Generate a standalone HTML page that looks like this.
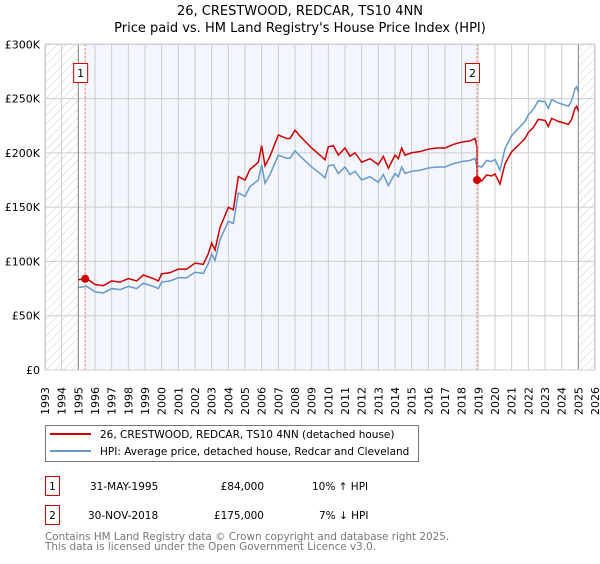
<!DOCTYPE html>
<html><head><meta charset="utf-8"><style>
body{margin:0;background:#fff;font-family:"DejaVu Sans","Liberation Sans",sans-serif;}
svg text{font-family:"DejaVu Sans","Liberation Sans",sans-serif;}
</style></head><body>
<svg id="chart" width="600" height="560" xmlns="http://www.w3.org/2000/svg">
<defs><pattern id="hatch" width="6" height="6" patternUnits="userSpaceOnUse" patternTransform="rotate(45)"><line x1="0" y1="0" x2="0" y2="6" stroke="#ccc" stroke-width="1"/></pattern></defs>
<text x="300" y="15" font-size="13" text-anchor="middle">26, CRESTWOOD, REDCAR, TS10 4NN</text>
<text x="300" y="32" font-size="13" text-anchor="middle">Price paid vs. HM Land Registry's House Price Index (HPI)</text>
<g id="plot"></g>
<g>
<rect x="45.5" y="425.5" width="373" height="36" fill="#fff" stroke="#777"/>
<line x1="50" y1="434" x2="91" y2="434" stroke="#cc0000" stroke-width="2"/>
<text x="100" y="438" font-size="10.5">26, CRESTWOOD, REDCAR, TS10 4NN (detached house)</text>
<line x1="50" y1="451" x2="91" y2="451" stroke="#6699cc" stroke-width="2"/>
<text x="100" y="455" font-size="10.5">HPI: Average price, detached house, Redcar and Cleveland</text>
</g>
<g font-size="10.5">
<rect x="45.5" y="476.5" width="14" height="19" fill="#fff" stroke="#cc0000"/>
<text x="52.5" y="490" text-anchor="middle">1</text>
<text x="90" y="490">31-MAY-1995</text>
<text x="264" y="490" text-anchor="end">£84,000</text>
<text x="312" y="490">10% ↑ HPI</text>
<rect x="45.5" y="505.5" width="14" height="19" fill="#fff" stroke="#cc0000"/>
<text x="52.5" y="519" text-anchor="middle">2</text>
<text x="88" y="519">30-NOV-2018</text>
<text x="264" y="519" text-anchor="end">£175,000</text>
<text x="319" y="519">7% ↓ HPI</text>
</g>
<text x="45" y="540" font-size="10.4" fill="#777">Contains HM Land Registry data © Crown copyright and database right 2025.</text>
<text x="45" y="550" font-size="10.4" fill="#777">This data is licensed under the Open Government Licence v3.0.</text>
</svg>
<script>
const yearTicks=[1993,1994,1995,1996,1997,1998,1999,2000,2001,2002,2003,2004,2005,2006,2007,2008,2009,2010,2011,2012,2013,2014,2015,2016,2017,2018,2019,2020,2021,2022,2023,2024,2025,2026];
const valueTicks=[0,50,100,150,200,250,300];
const valueLabels=["£0","£50K","£100K","£150K","£200K","£250K","£300K"];
const hpiDates=[1995.0,1995.5,1996.0,1996.5,1997.0,1997.5,1998.0,1998.5,1998.9,1999.5,1999.8,2000.0,2000.5,2001.0,2001.5,2002.0,2002.5,2002.8,2003.0,2003.2,2003.5,2004.0,2004.3,2004.6,2005.0,2005.3,2005.8,2006.0,2006.2,2006.5,2007.0,2007.5,2007.7,2008.0,2008.3,2009.0,2009.5,2009.8,2010.0,2010.3,2010.6,2011.0,2011.3,2011.6,2012.0,2012.5,2013.0,2013.3,2013.6,2014.0,2014.2,2014.4,2014.6,2015.0,2015.5,2016.0,2016.5,2017.0,2017.5,2018.0,2018.5,2018.8,2018.92,2019.2,2019.5,2019.8,2020.0,2020.3,2020.6,2021.0,2021.5,2021.8,2022.0,2022.3,2022.6,2023.0,2023.2,2023.4,2023.8,2024.0,2024.4,2024.6,2024.8,2024.9,2025.0];
const hpiValues=[76,77,72,71,75,74,77,75,80,77,75,81,82,85,85,90,89,98,107,101,120,137,135,163,160,169,175,189,172,180,198,195,195,202,197,187,181,177,188,189,181,187,180,183,175,178,173,180,170,181,178,187,181,183,184,186,187,187,190,192,193,195,188,187,193,192,194,184,204,216,224,229,235,240,248,247,241,249,246,245,243,248,259,261,256];
const saleDates=[1995.41,2018.92];
const salePrices=[84,175];
const saleLabels=["1","2"];
const X0=45,X1=595,Y0=370,Y1=44.3;
const sx=d=>X0+(d-1993)/(2026-1993)*(X1-X0);
const sy=v=>Y0-v/300*(Y0-Y1);
const NS="http://www.w3.org/2000/svg";
const g=document.getElementById('plot');
function mk(t,a){const e=document.createElementNS(NS,t);for(const k in a)e.setAttribute(k,a[k]);g.appendChild(e);return e;}
function hpiAt(d){for(let i=0;i<hpiDates.length-1;i++){if(d<=hpiDates[i+1]){const t=(d-hpiDates[i])/(hpiDates[i+1]-hpiDates[i]);return hpiValues[i]+t*(hpiValues[i+1]-hpiValues[i]);}}return hpiValues[hpiValues.length-1];}
let e;
e=mk('rect',{x:sx(saleDates[0]),y:Y1,width:sx(saleDates[1])-sx(saleDates[0]),height:Y0-Y1,fill:'#f3f6fd'});


e=mk('rect',{x:X0,y:Y1,width:sx(1995)-X0,height:Y0-Y1,fill:'url(#hatch)'});


e=mk('rect',{x:sx(2025),y:Y1,width:X1-sx(2025),height:Y0-Y1,fill:'url(#hatch)'});


yearTicks.forEach(y=>{
 e=mk('line',{x1:sx(y),x2:sx(y),y1:Y1,y2:Y0,stroke:'#ccc','stroke-width':1});
 
 
 e=mk('text',{transform:`translate(${sx(y)+4},${Y0+45}) rotate(-90)`,'font-size':11});
 e.textContent=y;
 
 
});
valueTicks.forEach((v,i)=>{
 e=mk('line',{x1:X0,x2:X1,y1:sy(v),y2:sy(v),stroke:'#ccc','stroke-width':1});
 
 
 e=mk('text',{x:40,y:sy(v)+4,'font-size':11,'text-anchor':'end'});
 e.textContent=valueLabels[i];
 
 
});
e=mk('line',{x1:sx(1995),x2:sx(1995),y1:Y1,y2:Y0,stroke:'#888','stroke-width':1});


e=mk('line',{x1:sx(2025),x2:sx(2025),y1:Y1,y2:Y0,stroke:'#888','stroke-width':1});


e=mk('polyline',{points:hpiDates.map((d,i)=>sx(d)+','+sy(hpiValues[i])).join(' '),fill:'none',stroke:'#6699cc','stroke-width':1.5});


const redPts=[];
let jumped=false;
hpiDates.forEach((d,i)=>{
 const k=d<saleDates[1]?0:1;
 const v=salePrices[k]*hpiValues[i]/hpiAt(saleDates[k]);
 if(d>=saleDates[1]&&!jumped){redPts.push(sx(saleDates[1])+','+sy(salePrices[0]*hpiAt(saleDates[1])/hpiAt(saleDates[0])));redPts.push(sx(saleDates[1])+','+sy(salePrices[1]));jumped=true;}
 redPts.push(sx(d)+','+sy(v));
});
e=mk('polyline',{points:redPts.join(' '),fill:'none',stroke:'#cc0000','stroke-width':1.5});


saleDates.forEach((d,i)=>{
 e=mk('line',{x1:sx(d),x2:sx(d),y1:Y1,y2:Y0,stroke:'#ee6666','stroke-width':1,'stroke-dasharray':'2,2'});
 
 
 e=mk('circle',{cx:sx(d),cy:sy(salePrices[i]),r:4,fill:'#cc0000'});
 
 
 e=mk('rect',{x:sx(d)-11.5,y:63.5,width:14,height:19,fill:'#fff',stroke:'#cc0000'});
 
 
 e=mk('text',{x:sx(d)-4.5,y:77,'font-size':11,'text-anchor':'middle'});
 e.textContent=saleLabels[i];
 
 
});
e=mk('rect',{x:X0+0.5,y:Y1,width:X1-X0-1,height:Y0-Y1,fill:'none',stroke:'#ccc'});


</script>
</body></html>
